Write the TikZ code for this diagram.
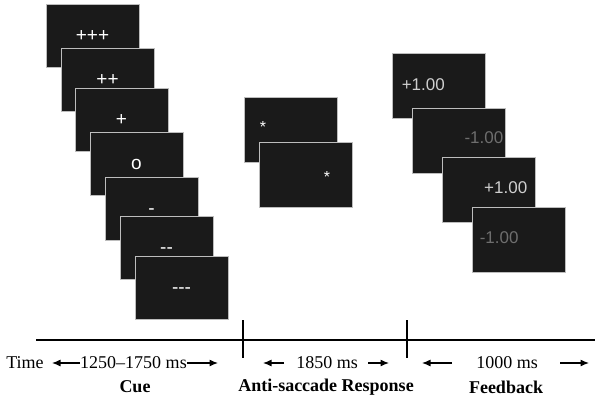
\documentclass[tikz,border=0pt]{standalone}
\usepackage{fontspec}
\setmainfont{Liberation Serif}
\newfontfamily\screenfont{Liberation Sans}
\usetikzlibrary{arrows.meta}

\definecolor{screenfill}{HTML}{1A1A1A}
\definecolor{screenedge}{HTML}{BDBDBD}
\definecolor{fbpos}{HTML}{CFCFCF}
\definecolor{fbneg}{HTML}{6E6E6E}

\begin{document}
\begin{tikzpicture}[x=1pt, y=-1pt,
    screen/.style={draw=screenedge, fill=screenfill, line width=0.9pt,
        minimum width=93pt, minimum height=63pt, inner sep=0pt,
        text=white, font=\screenfont\fontsize{19}{20}\selectfont,
        text height=11.4pt, text depth=0pt},
    fbtext/.style={inner sep=0pt, font=\screenfont\fontsize{17}{18}\selectfont},
    startext/.style={inner sep=0pt, anchor=base, text=white,
        font=\screenfont\fontsize{16}{17}\selectfont},
    timetext/.style={inner sep=0pt, font=\fontsize{18}{20}\selectfont},
    phase/.style={inner sep=0pt, font=\bfseries\fontsize{18}{20}\selectfont},
    tarrow/.style={-{Latex[length=8.5pt,width=7pt]}, line width=1.2pt},
    tline/.style={line width=1.3pt}]
                % Frame:
                \useasboundingbox (0,0) rectangle (601,401);
                % Cue screens:
                \node[screen] (c1) at (92.5, 35.5) {+++};
                \node[screen] (c2) at (107.5, 79.5) {++};
                \node[screen] (c3) at (121.5, 119.5) {+};
                \node[screen] (c4) at (136.5, 163.5) {o};
                \node[screen] (c5) at (151.5, 208.5) {-};
                \node[screen] (c6) at (166.5, 247.5) {-{}-};
                \node[screen] (c7) at (181.5, 287.5) {-{}-{}-};
                % Anti-saccade screens:
                \node[screen, minimum height=65pt] (a1) at (290.5, 130) {};
                \node[startext] at ([xshift=-27.5pt, yshift=-2.4pt]a1.center) {*};
                \node[screen, minimum height=65pt] (a2) at (305.5, 175) {};
                \node[startext] at ([xshift=21.5pt, yshift=-7.4pt]a2.center) {*};
                % Feedback screens:
                \node[screen, minimum height=65pt] (f1) at (438.5, 85.5) {};
                \node[fbtext, text=fbpos, anchor=base west] at ([xshift=10pt, yshift=-5.5pt]f1.west) {+1.00};
                \node[screen, minimum height=65pt] (f2) at (458.5, 140.5) {};
                \node[fbtext, text=fbneg, anchor=base east] at ([xshift=-2pt, yshift=-2.5pt]f2.east) {-1.00};
                \node[screen, minimum height=65pt] (f3) at (488.5, 190) {};
                \node[fbtext, text=fbpos, anchor=base east] at ([xshift=-8pt, yshift=-3pt]f3.east) {+1.00};
                \node[screen, minimum height=65pt] (f4) at (518.5, 239.5) {};
                \node[fbtext, text=fbneg, anchor=base west] at ([xshift=8pt, yshift=-3.5pt]f4.west) {-1.00};
                % Time axis:
                \coordinate (axisL) at (36, 340);
                \coordinate (axisR) at (595, 340);
                \coordinate (tickAtop) at (243, 320);
                \coordinate (tickAbot) at (243, 358);
                \coordinate (tickBtop) at (407, 320);
                \coordinate (tickBbot) at (407, 358);
                \draw[tline] (axisL) -- (axisR);
                \draw[tline] (tickAtop) -- (tickAbot);
                \draw[tline] (tickBtop) -- (tickBbot);
                % Durations:
                \node[timetext] (time) at (25, 363) {Time};
                \node[timetext] (cuedur) at (133.5, 363) {1250–1750 ms};
                \coordinate (cueL) at (52, 363);
                \coordinate (cueR) at (218, 363);
                \draw[tarrow] (cuedur.west) -- (cueL);
                \draw[tarrow] (cuedur.east) -- (cueR);
                \node[timetext] (antidur) at (327, 363) {1850 ms};
                \coordinate (antiLs) at (284, 363);
                \coordinate (antiL) at (263, 363);
                \coordinate (antiRs) at (368, 363);
                \coordinate (antiR) at (389, 363);
                \draw[tarrow] (antiLs) -- (antiL);
                \draw[tarrow] (antiRs) -- (antiR);
                \node[timetext] (fbdur) at (507, 363) {1000 ms};
                \coordinate (fbLs) at (452, 363);
                \coordinate (fbL) at (422, 363);
                \coordinate (fbRs) at (560, 363);
                \coordinate (fbR) at (589, 363);
                \draw[tarrow] (fbLs) -- (fbL);
                \draw[tarrow] (fbRs) -- (fbR);
                % Phases:
                \node[phase] (cue) at (135, 387) {Cue};
                \node[phase] (anti) at (326, 387) {Anti-saccade Response};
                \node[phase] (fb) at (506, 387) {Feedback};
            \end{tikzpicture}
\end{document}
